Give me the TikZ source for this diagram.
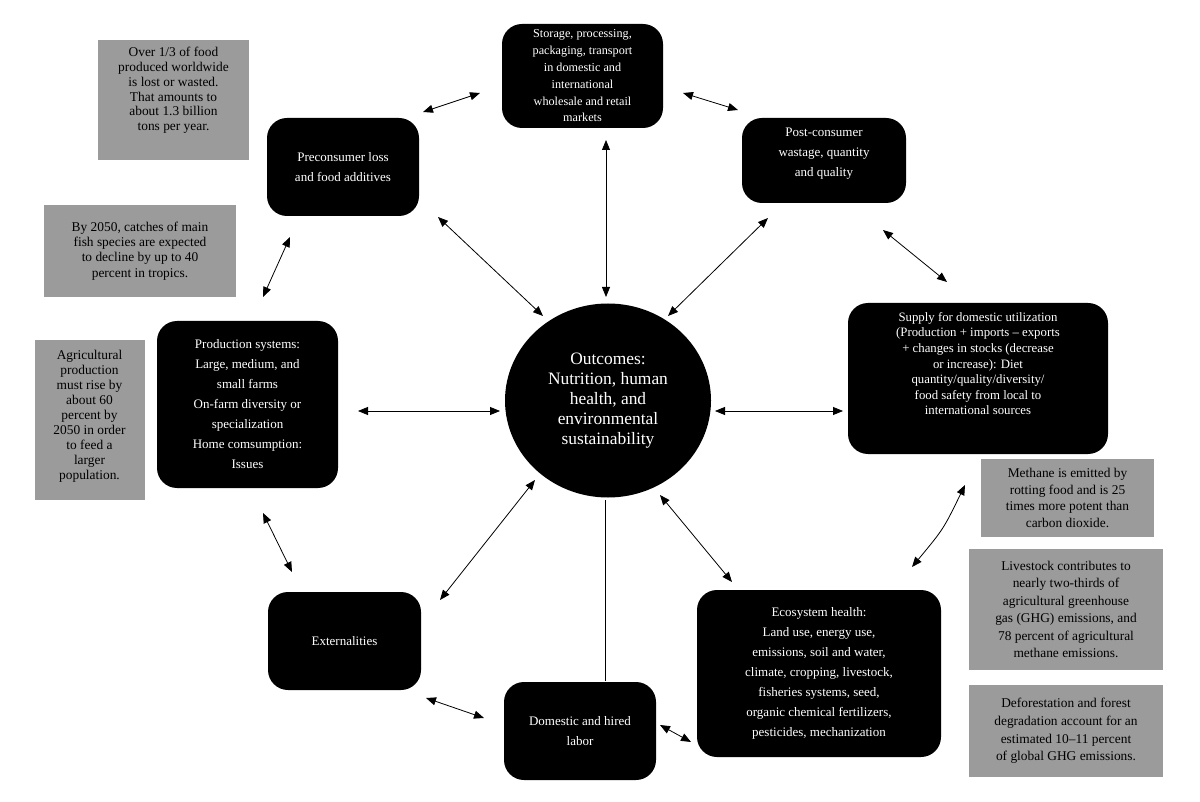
\documentclass[tikz,border=0pt]{standalone}
\usepackage{fontspec}
\setmainfont{Liberation Serif}
\usetikzlibrary{arrows.meta,shapes.geometric}
\definecolor{notegray}{RGB}{155,155,155}
\begin{document}
\begin{tikzpicture}[x=1pt,y=-1pt,
  blk/.style={fill=black,text=white,rounded corners=20pt,align=center,inner sep=0pt,
    font=\fontsize{13}{20}\selectfont},
  note/.style={fill=notegray,text=black,align=center,inner sep=0pt,
    font=\fontsize{13.4}{15}\selectfont},
  tip/.tip={Triangle[length=10pt,width=8pt]},
  conn/.style={line width=0.8pt,tip-tip},
  plain/.style={line width=0.8pt}]
\useasboundingbox (0,0) rectangle (1200,802);

% black boxes
\node[blk,minimum width=161pt,minimum height=104pt,font=\fontsize{12.2}{16.8}\selectfont] (st) at (582.5,76)
  {Storage, processing,\\packaging, transport\\in domestic and\\international\\wholesale and retail\\markets};
\node[blk,minimum width=164pt,minimum height=85pt,text depth=16pt] (post) at (824,160.5)
  {Post-consumer\\wastage, quantity\\and quality};
\node[blk,minimum width=152pt,minimum height=98pt] (pre) at (343,167)
  {Preconsumer loss\\and food additives};
\node[blk,minimum width=181pt,minimum height=167pt] (prod) at (247.5,404.5)
  {Production systems:\\Large, medium, and\\small farms\\On-farm diversity or\\specialization\\Home comsumption:\\Issues};
\node[blk,minimum width=260pt,minimum height=151pt,font=\fontsize{12.8}{15.6}\selectfont,text depth=30pt] (sup) at (978,378.5)
  {Supply for domestic utilization\\(Production + imports -- exports\\+ changes in stocks (decrease\\or increase): Diet\\quantity/quality/diversity/\\food safety from local to\\international sources};
\node[blk,minimum width=153pt,minimum height=98pt] (ext) at (344.5,641)
  {Externalities};
\node[blk,minimum width=152pt,minimum height=98pt] (lab) at (580,731)
  {Domestic and hired\\labor};
\node[blk,minimum width=244pt,minimum height=167pt] (eco) at (819,673.5)
  {Ecosystem health:\\Land use, energy use,\\emissions, soil and water,\\climate, cropping, livestock,\\fisheries systems, seed,\\organic chemical fertilizers,\\pesticides, mechanization};
\node[ellipse,fill=black,text=white,align=center,inner sep=0pt,minimum width=206pt,minimum height=194pt,
  font=\fontsize{17.4}{20}\selectfont] (out) at (608,400.5)
  {Outcomes:\\Nutrition, human\\health, and\\environmental\\sustainability};

% gray notes
\node[note,minimum width=151pt,minimum height=120pt,font=\fontsize{13.4}{14.7}\selectfont,text depth=22pt] (g1) at (173.5,100)
  {Over 1/3 of food\\produced worldwide\\is lost or wasted.\\That amounts to\\about 1.3 billion\\tons per year.};
\node[note,minimum width=192pt,minimum height=92pt,font=\fontsize{13.4}{15.3}\selectfont] (g2) at (140,251)
  {By 2050, catches of main\\fish species are expected\\to decline by up to 40\\percent in tropics.};
\node[note,minimum width=110pt,minimum height=160pt,font=\fontsize{13.4}{15}\selectfont,text depth=10pt] (g3) at (89.5,420)
  {Agricultural\\production\\must rise by\\about 60\\percent by\\2050 in order\\to feed a\\larger\\population.};
\node[note,minimum width=173pt,minimum height=78pt,font=\fontsize{13.4}{16.7}\selectfont] (g4) at (1067.5,498)
  {Methane is emitted by\\rotting food and is 25\\times more potent than\\carbon dioxide.};
\node[note,minimum width=194pt,minimum height=121pt,font=\fontsize{13.4}{17.4}\selectfont] (g5) at (1066,609.5)
  {Livestock contributes to\\nearly two-thirds of\\agricultural greenhouse\\gas (GHG) emissions, and\\78 percent of agricultural\\methane emissions.};
\node[note,minimum width=194pt,minimum height=92pt,font=\fontsize{13.4}{17.7}\selectfont] (g6) at (1066,731)
  {Deforestation and forest\\degradation account for an\\estimated 10--11 percent\\of global GHG emissions.};

% connector end points
\coordinate (a1) at (423,112);  \coordinate (b1) at (480,93);
\coordinate (a2) at (683,93);   \coordinate (b2) at (738,110);
\coordinate (a3) at (606,140);  \coordinate (b3) at (606,297);
\coordinate (a4) at (438,217);  \coordinate (b4) at (543,316);
\coordinate (a5) at (768,218);  \coordinate (b5) at (668,316);
\coordinate (a6) at (290,237);  \coordinate (b6) at (263,297);
\coordinate (a7) at (358,411);  \coordinate (b7) at (500,411);
\coordinate (a8) at (843,411);  \coordinate (b8) at (715,411);
\coordinate (a9) at (883,230);  \coordinate (b9) at (947,282);
\coordinate (a10) at (263,513); \coordinate (b10) at (292,572);
\coordinate (a11) at (440,600); \coordinate (b11) at (535,480);
\coordinate (a12) at (732,582); \coordinate (b12) at (660,495);
\coordinate (a13) at (605,681); \coordinate (b13) at (605,500);
\coordinate (a14) at (426,698); \coordinate (b14) at (484,718);
\coordinate (a15) at (660,725); \coordinate (b15) at (691,742);
\coordinate (a16) at (912,567); \coordinate (b16) at (965,485);
\coordinate (k16) at (943.5,529);

\draw[conn] (a1) -- (b1);
\draw[conn] (a2) -- (b2);
\draw[conn] (a3) -- (b3);
\draw[conn] (a4) -- (b4);
\draw[conn] (a5) -- (b5);
\draw[conn] (a6) -- (b6);
\draw[conn] (a7) -- (b7);
\draw[conn] (a8) -- (b8);
\draw[conn] (a9) -- (b9);
\draw[conn] (a10) -- (b10);
\draw[conn] (a11) -- (b11);
\draw[conn] (a12) -- (b12);
\draw[plain] (a13) -- (b13);
\draw[conn] (a14) -- (b14);
\draw[conn] (a15) -- (b15);
\draw[conn] (a16) .. controls (k16) .. (b16);
\end{tikzpicture}
\end{document}
